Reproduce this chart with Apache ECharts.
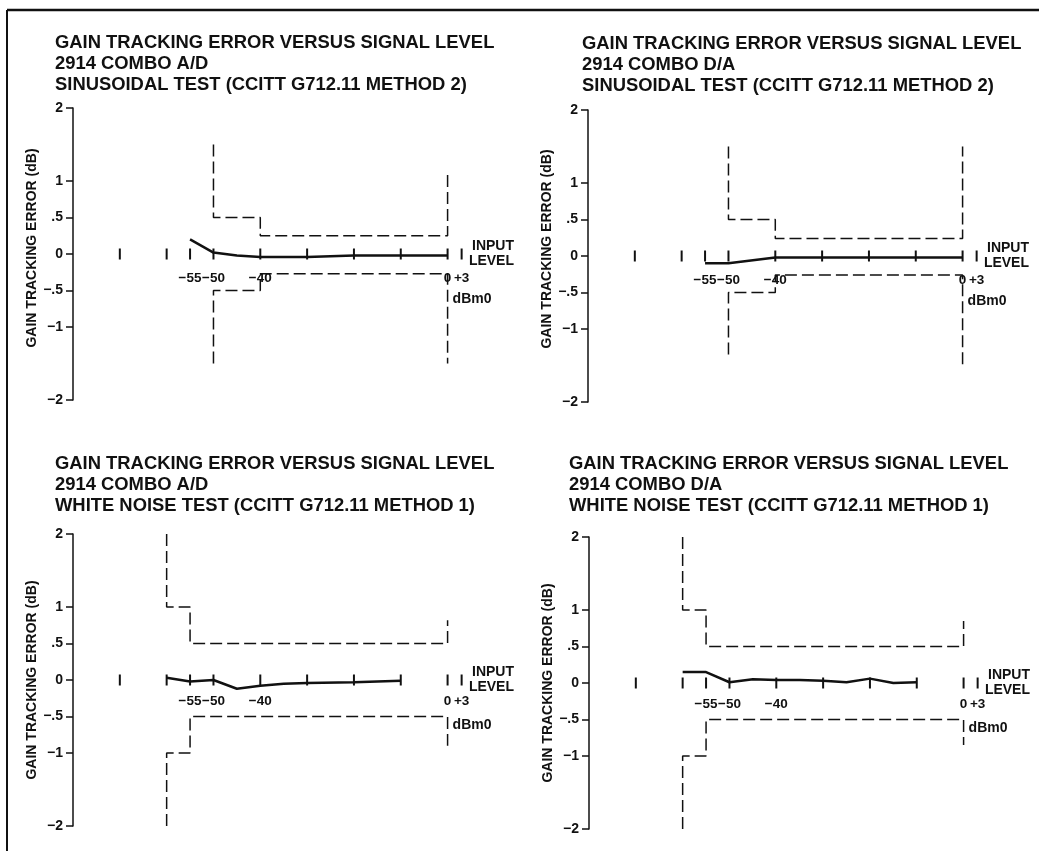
<!DOCTYPE html>
<html>
<head>
<meta charset="utf-8">
<title>Gain tracking error versus signal level</title>
<script src="https://cdn.jsdelivr.net/npm/echarts@6/dist/echarts.min.js"></script>
<style>
  html, body { margin: 0; padding: 0; background: #fff; }
  #chart { width: 1039px; height: 851px; }
</style>
</head>
<body>
<div id="chart"></div>
<script>
// x: input level (dBm0), y: gain tracking error (dB)
const tickLevels = [-70, -60, -55, -50, -40, -30, -20, -10, 0, 3];
const levelLabels = [-55, -50, -40, 0, 3];
const errorLabels = [2, 1, 0.5, 0, -0.5, -1, -2];

// 2914 COMBO A/D, sinusoidal test
const adSineLevel = [-55, -50, -45, -40, -30, -20, -10, 0];
const adSineError = [0.2, 0.02, -0.02, -0.04, -0.04, -0.02, -0.02, -0.02];
const adSineUpper = [[-50, 1.5], [-50, 0.5], [-40, 0.5], [-40, 0.25], [0, 0.25], [0, 1.15]];
const adSineLower = [[-50, -1.5], [-50, -0.5], [-40, -0.5], [-40, -0.27], [0, -0.27], [0, -1.5]];

// 2914 COMBO D/A, sinusoidal test
const daSineLevel = [-55, -50, -40, -30, -20, -10, 0];
const daSineError = [-0.1, -0.1, -0.02, -0.02, -0.02, -0.02, -0.02];
const daSineUpper = [[-50, 1.5], [-50, 0.5], [-40, 0.5], [-40, 0.24], [0, 0.24], [0, 1.5]];
const daSineLower = [[-50, -1.35], [-50, -0.5], [-40, -0.5], [-40, -0.26], [0, -0.26], [0, -1.5]];

// 2914 COMBO A/D, white noise test
const adNoiseLevel = [-60, -55, -50, -45, -40, -35, -30, -20, -10];
const adNoiseError = [0.03, -0.02, 0, -0.12, -0.08, -0.05, -0.04, -0.03, -0.01];
const adNoiseUpper = [[-60, 2], [-60, 1], [-55, 1], [-55, 0.5], [0, 0.5], [0, 0.82]];
const adNoiseLower = [[-60, -2], [-60, -1], [-55, -1], [-55, -0.5], [0, -0.5], [0, -0.9]];

// 2914 COMBO D/A, white noise test
const daNoiseLevel = [-60, -55, -50, -45, -40, -35, -30, -25, -20, -15, -10];
const daNoiseError = [0.15, 0.15, 0.01, 0.05, 0.04, 0.04, 0.03, 0.01, 0.06, 0, 0.01];
const daNoiseUpper = [[-60, 2], [-60, 1], [-55, 1], [-55, 0.5], [0, 0.5], [0, 0.85]];
const daNoiseLower = [[-60, -2], [-60, -1], [-55, -1], [-55, -0.5], [0, -0.5], [0, -0.85]];

const font = "'Liberation Sans', Arial, Helvetica, sans-serif";
const ink = '#111';

const panels = [
  { title: 'GAIN TRACKING ERROR VERSUS SIGNAL LEVEL\n2914 COMBO A/D\nSINUSOIDAL TEST (CCITT G712.11 METHOD 2)',
    titlePos: [55, 32], gridPos: [73, 108], nameShift: 12, labelGap: 17,
    level: adSineLevel, error: adSineError, upper: adSineUpper, lower: adSineLower },
  { title: 'GAIN TRACKING ERROR VERSUS SIGNAL LEVEL\n2914 COMBO D/A\nSINUSOIDAL TEST (CCITT G712.11 METHOD 2)',
    titlePos: [582, 33], gridPos: [588, 110], nameShift: 14, labelGap: 17,
    level: daSineLevel, error: daSineError, upper: daSineUpper, lower: daSineLower },
  { title: 'GAIN TRACKING ERROR VERSUS SIGNAL LEVEL\n2914 COMBO A/D\nWHITE NOISE TEST (CCITT G712.11 METHOD 1)',
    titlePos: [55, 453], gridPos: [73, 534], nameShift: 0, labelGap: 14,
    level: adNoiseLevel, error: adNoiseError, upper: adNoiseUpper, lower: adNoiseLower },
  { title: 'GAIN TRACKING ERROR VERSUS SIGNAL LEVEL\n2914 COMBO D/A\nWHITE NOISE TEST (CCITT G712.11 METHOD 1)',
    titlePos: [569, 453], gridPos: [589, 537], nameShift: 0, labelGap: 14,
    level: daNoiseLevel, error: daNoiseError, upper: daNoiseUpper, lower: daNoiseLower }
];

function fmtLevel(v) {
  if (v > 0) return '+' + v;
  if (v < 0) return '\u2212' + (-v);
  return '0';
}
function fmtError(v) {
  if (v === 0) return '0';
  const s = String(Math.abs(v)).replace(/^0\./, '.');
  return (v < 0 ? '\u2212' : '') + s;
}

const chart = echarts.init(document.getElementById('chart'));

const option = {
  animation: false,
  backgroundColor: '#fff',
  textStyle: { fontFamily: font, color: ink },
  title: [], grid: [], xAxis: [], yAxis: [], series: []
};

const dashed = { color: ink, width: 1.5, type: [12, 5] };
const boldText = { fontFamily: font, fontSize: 14, fontWeight: 'bold', color: ink };

panels.forEach(function (p, i) {
  option.title.push({
    text: p.title, left: p.titlePos[0], top: p.titlePos[1], padding: 0,
    textStyle: { fontFamily: font, fontSize: 18.4, fontWeight: 'bold', color: ink, lineHeight: 21 }
  });
  option.grid.push({ left: p.gridPos[0], top: p.gridPos[1], width: 398, height: 292 });
  option.xAxis.push({
    type: 'value', gridIndex: i, min: -80, max: 5,
    splitLine: { show: false },
    axisLine: { show: true, onZero: true, lineStyle: { opacity: 0 } },
    axisTick: { show: false },
    axisLabel: { show: false },
    name: 'INPUT\nLEVEL', nameLocation: 'end', nameGap: 43,
    nameTextStyle: Object.assign({}, boldText, {
      align: 'right', verticalAlign: 'middle', lineHeight: 15, padding: [0, 0, 9, 0]
    })
  });
  option.yAxis.push({
    type: 'value', gridIndex: i, min: -2, max: 2, interval: 0.5,
    splitLine: { show: false },
    axisLine: { show: true, onZero: false, lineStyle: { color: ink, width: 1.5 } },
    axisTick: { show: true, customValues: errorLabels, length: 7, lineStyle: { color: ink, width: 1.5 } },
    axisLabel: Object.assign({ customValues: errorLabels, formatter: fmtError, margin: 10 }, boldText),
    name: 'GAIN TRACKING ERROR (dB)', nameLocation: 'middle', nameGap: 31,
    nameTextStyle: Object.assign({}, boldText, { padding: [0, 0, 0, p.nameShift] })
  });

  option.series.push({
    type: 'line', xAxisIndex: i, yAxisIndex: i, symbol: 'none', silent: true,
    data: p.upper, lineStyle: dashed
  });
  option.series.push({
    type: 'line', xAxisIndex: i, yAxisIndex: i, symbol: 'none', silent: true,
    data: p.lower, lineStyle: dashed
  });
  option.series.push({
    type: 'line', xAxisIndex: i, yAxisIndex: i, symbol: 'none', silent: true,
    data: p.level.map(function (x, k) { return [x, p.error[k]]; }),
    lineStyle: { color: ink, width: 2.5 }
  });
  // tick bars across the 0 dB line
  option.series.push({
    type: 'scatter', xAxisIndex: i, yAxisIndex: i, silent: true,
    symbol: 'rect', symbolSize: [2, 11],
    itemStyle: { color: ink, opacity: 1 },
    data: tickLevels.map(function (x) { return [x, 0]; })
  });
  // level labels hung under the 0 dB line
  option.series.push({
    type: 'scatter', xAxisIndex: i, yAxisIndex: i, silent: true,
    symbolSize: 0,
    itemStyle: { color: ink, opacity: 1 },
    label: Object.assign({
      show: true, position: 'bottom', distance: p.labelGap,
      formatter: function (d) { return fmtLevel(d.value[0]); }
    }, boldText, { fontSize: 13.5 }),
    labelLayout: { hideOverlap: false },
    data: levelLabels.map(function (x) { return [x, 0]; })
  });
});

chart.setOption(option);

// frame of the figure and the dBm0 unit under each level axis
const graphics = [
  { type: 'line', shape: { x1: 7, y1: 10, x2: 1039, y2: 10 }, style: { stroke: ink, lineWidth: 2.5 } },
  { type: 'line', shape: { x1: 7, y1: 10, x2: 7, y2: 851 }, style: { stroke: ink, lineWidth: 2 } }
];
panels.forEach(function (p, i) {
  const pt = chart.convertToPixel({ gridIndex: i }, [0, -0.62]);
  graphics.push({
    type: 'text', x: pt[0] + 5, y: pt[1],
    style: { text: 'dBm0', font: 'bold 14px ' + font, fill: ink, align: 'left', verticalAlign: 'middle' }
  });
});
chart.setOption({ graphic: graphics });
</script>
</body>
</html>
